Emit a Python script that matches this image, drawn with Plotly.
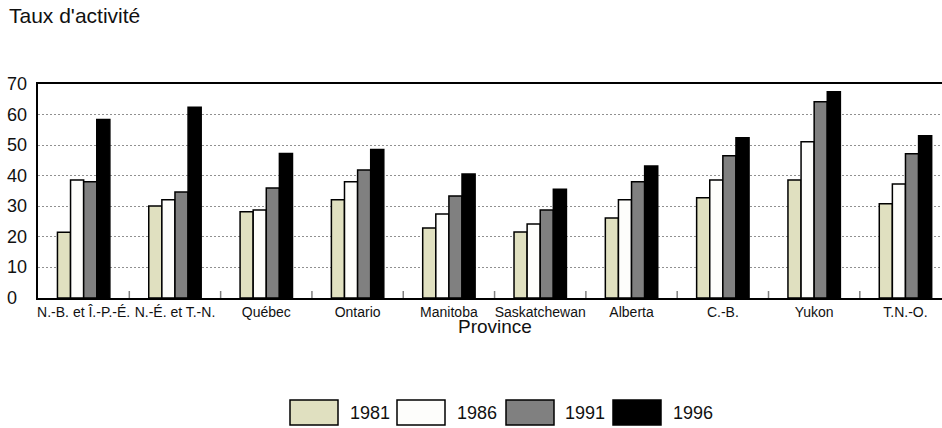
import plotly.graph_objects as go

categories = ["N.-B. et Î.-P.-É.", "N.-É. et T.-N.", "Québec", "Ontario", "Manitoba",
              "Saskatchewan", "Alberta", "C.-B.", "Yukon", "T.N.-O."]
years = ["1981", "1986", "1991", "1996"]
v1981 = [21.5, 30.1, 28.2, 32.1, 22.9, 21.6, 26.2, 32.8, 38.6, 30.8]
v1986 = [38.6, 32.1, 28.8, 38.0, 27.5, 24.2, 32.1, 38.6, 51.1, 37.3]
v1991 = [38.0, 34.7, 36.0, 41.9, 33.4, 28.8, 38.0, 46.5, 64.2, 47.2]
v1996 = [58.4, 62.4, 47.3, 48.6, 40.6, 35.6, 43.2, 52.4, 67.5, 53.1]
y_ticks = [0, 10, 20, 30, 40, 50, 60, 70]

series = [v1981, v1986, v1991, v1996]
colors = ["#e0e0c0", "#fdfdfb", "#808080", "#000000"]
FONT = "Liberation Sans, Arial, sans-serif"

fig = go.Figure()
for name, vals, col in zip(years, series, colors):
    fig.add_trace(go.Bar(
        x=categories, y=vals, name=name,
        marker=dict(color=col, line=dict(color="black", width=1.5)),
        showlegend=False, hoverinfo="skip",
    ))

W, H = 942, 428
L, R, T, B = 38, 0, 84, 130
pw = W - L - R
ph = H - T - B

def px_x(p):
    return (p - L) / pw

def px_y(p):
    return (H - B - p) / ph

annotations = []
# y tick labels, left-aligned
for v in y_ticks:
    annotations.append(dict(x=0, xref="paper", xanchor="left", xshift=-33,
                            y=v, yref="y", yanchor="middle", text=str(v),
                            showarrow=False, font=dict(family=FONT, size=18, color="#111")))
# y title
annotations.append(dict(x=px_x(7), xref="paper", xanchor="left", y=px_y(16), yref="paper",
                        yanchor="middle", text="Taux d'activité", showarrow=False,
                        font=dict(family=FONT, size=21, color="#111")))
# x title
annotations.append(dict(x=(len(categories) - 1) / 2, xref="x", xanchor="center",
                        y=px_y(326), yref="paper", yanchor="middle", text="Province",
                        showarrow=False, font=dict(family=FONT, size=19, color="#111")))

shapes = []
# boundary ticks crossing the axis
for i in range(1, len(categories)):
    shapes.append(dict(type="line", xref="x", x0=i - 0.5, x1=i - 0.5,
                       yref="y", ysizemode="pixel", yanchor=0, y0=-5, y1=7,
                       line=dict(color="#808080", width=1.5)))

# legend
sw_left = [290, 397, 506, 613]
txt_left = [348, 455, 563, 671]
for name, col, sx, tx in zip(years, colors, sw_left, txt_left):
    shapes.append(dict(type="rect", xref="paper", yref="paper",
                       x0=px_x(sx), x1=px_x(sx + 48), y0=px_y(425), y1=px_y(400),
                       fillcolor=col, line=dict(color="black", width=1.5)))
    annotations.append(dict(x=px_x(tx), xref="paper", xanchor="left",
                            y=px_y(413), yref="paper", yanchor="middle", text=name,
                            showarrow=False, font=dict(family=FONT, size=18, color="#111")))

fig.update_layout(
    width=W, height=H,
    margin=dict(l=L, r=R, t=T, b=B, pad=0),
    paper_bgcolor="white", plot_bgcolor="white",
    barmode="group", bargap=0.426, bargroupgap=0,
    font=dict(family=FONT, color="#111"),
    annotations=annotations, shapes=shapes,
    showlegend=False, hovermode=False,
)
fig.update_xaxes(
    type="category", range=[-0.5, 9.4],
    showline=True, linecolor="black", linewidth=2, mirror=True,
    ticks="", tickangle=0, tickfont=dict(family=FONT, size=14, color="#111"),
    showgrid=False, zeroline=False,
)
fig.update_yaxes(
    range=[0, 70], tickvals=y_ticks, showticklabels=False, ticks="",
    showline=True, linecolor="black", linewidth=2,
    showgrid=True, gridcolor="#909090", gridwidth=1, griddash="2px,2px",
    zeroline=False,
)

fig.write_html(
    "out.html",
    config={"displayModeBar": False, "staticPlot": True},
    post_script="document.body.style.margin='0';document.body.style.overflow='hidden';",
)
